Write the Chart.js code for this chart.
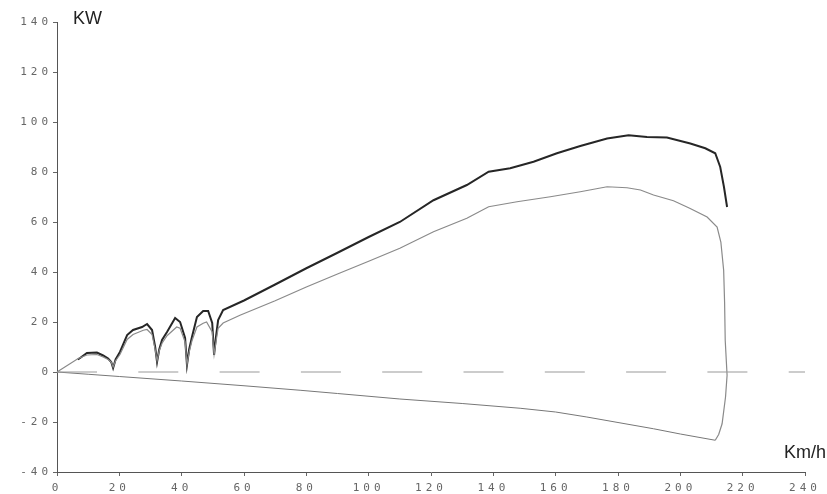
<!DOCTYPE html>
<html>
<head>
<meta charset="utf-8">
<script src="https://cdn.jsdelivr.net/npm/chart.js@4"></script>
<style>
html, body { margin: 0; padding: 0; background: #fff; }
</style>
</head>
<body>
<canvas id="chart" width="827" height="494"></canvas>
<script>
// 軸ラベル
const yTitle = "KW";
const xTitle = "Km/h";
const xTicks = [0, 20, 40, 60, 80, 100, 120, 140, 160, 180, 200, 220, 240];
const yTicks = [-40, -20, 0, 20, 40, 60, 80, 100, 120, 140];

// 上の黒い線 (速度 km/h, 出力 kW)
const blackSpeed = [6.7, 7.4, 9.6, 12.8, 14.8, 16.4, 17.4, 18.0, 18.8, 20.2, 22.5, 24.4, 27.3, 28.9, 30.5, 31.5, 32.1, 32.8, 33.7, 35.3, 37.9, 39.5, 41.1, 41.7, 42.4, 43.3, 44.9, 46.9, 48.5, 49.8, 50.4, 51.0, 51.7, 53.3, 60, 70, 80, 90, 100, 110, 120.8, 131.5, 138.5, 145.4, 152.9, 160.4, 167.9, 176.5, 183.4, 189.3, 195.7, 203.2, 208, 211.2, 212.8, 214, 215];
const blackPower = [5, 5.6, 7.6, 7.8, 6.6, 5.4, 4, 1.6, 5, 8, 14.8, 16.8, 18, 19.2, 16.8, 10, 4, 9, 12.8, 16, 21.6, 20, 13.6, 2.8, 9, 14, 22, 24.4, 24.4, 19.6, 6.8, 14, 20.8, 24.8, 28.6, 35, 41.5, 47.7, 54, 60, 68.7, 74.8, 80.1, 81.5, 84.1, 87.5, 90.4, 93.4, 94.7, 94, 93.8, 91.4, 89.5, 87.5, 82, 74, 66];

// 灰色の線 (上側から下まで)
const greySpeed = [0, 6.8, 9.6, 12.8, 14.8, 16.4, 17.4, 18, 18.8, 20.2, 22.5, 24.4, 27.7, 28.9, 30.5, 31.5, 32.1, 32.8, 33.7, 35.3, 38.4, 39.5, 41.1, 41.7, 42.4, 43.3, 44.9, 46.9, 48, 49.8, 50.4, 51, 51.7, 53.3, 58.7, 70, 80, 90, 100, 110, 120.8, 131.5, 138.5, 147.6, 158.3, 167.9, 176.5, 182.9, 187.2, 191.4, 197.8, 203, 208.6, 211.8, 213, 213.9, 214.2, 214.4, 215, 214.5, 213.4, 212.3, 211.2];
const greyPower = [0, 5.4, 6.8, 7, 6, 5, 4, 2, 4.5, 7, 13, 15, 16.7, 17, 15, 9, 4.5, 8.5, 11.5, 14.5, 18, 17.5, 12, 3, 8, 12.5, 18, 19.5, 20, 16, 7, 12, 17.5, 19.6, 22.7, 28.5, 34, 39.2, 44.3, 49.5, 56.1, 61.5, 66.1, 68.1, 70.1, 72.1, 74.1, 73.7, 72.8, 70.8, 68.5, 65.5, 62, 58, 52, 40.7, 28, 12.7, -1.3, -10, -20.7, -25, -27.3];

// 下の線 (負の出力)
const lowerSpeed = [211.2, 200, 191.4, 180, 170, 160, 148.6, 130, 110, 90, 78, 60, 40, 20, 10, 0];
const lowerPower = [-27.3, -24.8, -22.7, -20.2, -18, -16, -14.5, -12.6, -10.8, -8.6, -7.3, -5.5, -3.6, -1.8, -0.9, 0];

// 0 の破線
const zeroSpeed = [0, 240];
const zeroPower = [0, 0];

const toPoints = (xs, ys) => xs.map((x, i) => ({ x: x, y: ys[i] }));

// 軸タイトルと文字間隔
const axisTitles = {
    id: "axisTitles",
    beforeDraw(chart) {
        chart.ctx.letterSpacing = "4px";
    },
    afterDraw(chart) {
        const c = chart.ctx;
        c.save();
        c.letterSpacing = "0px";
        c.font = '18px "Liberation Sans", Arial, sans-serif';
        c.fillStyle = "#222";
        c.textBaseline = "top";
        c.textAlign = "left";
        c.fillText(yTitle, chart.chartArea.left + 16, 10);
        c.textAlign = "right";
        c.fillText(xTitle, chart.width - 1, 444);
        c.restore();
    },
};

const ctx = document.getElementById("chart").getContext("2d");
const tickFont = { family: '"DejaVu Sans Mono", monospace', size: 11 };

new Chart(ctx, {
    type: "scatter",
    data: {
        datasets: [
            {
                data: toPoints(zeroSpeed, zeroPower),
                borderColor: "#9a9a9a",
                borderWidth: 1.2,
                borderDash: [40, 41.3],
            },
            {
                data: toPoints(lowerSpeed, lowerPower),
                borderColor: "#777",
                borderWidth: 1,
            },
            {
                data: toPoints(greySpeed, greyPower),
                borderColor: "#8a8a8a",
                borderWidth: 1.2,
            },
            {
                data: toPoints(blackSpeed, blackPower),
                borderColor: "#262626",
                borderWidth: 2,
            },
        ],
    },
    options: {
        responsive: false,
        animation: false,
        showLine: true,
        pointRadius: 0,
        clip: false,
        layout: { padding: { top: 22, right: 22, left: 0, bottom: 0 } },
        scales: {
            x: {
                type: "linear",
                min: 0,
                max: 240,
                afterBuildTicks: (s) => { s.ticks = xTicks.map((v) => ({ value: v })); },
                afterFit: (s) => { s.height = 22; },
                grid: { drawOnChartArea: false, tickLength: 4, color: "#666" },
                border: { color: "#555", width: 1 },
                ticks: { font: tickFont, color: "#666", padding: 6, maxRotation: 0 },
            },
            y: {
                type: "linear",
                min: -40,
                max: 140,
                afterBuildTicks: (s) => { s.ticks = yTicks.map((v) => ({ value: v })); },
                afterFit: (s) => { s.width = 57; },
                grid: { drawOnChartArea: false, tickLength: 4, color: "#666" },
                border: { color: "#555", width: 1 },
                ticks: { font: tickFont, color: "#666", padding: 1 },
            },
        },
        plugins: {
            legend: { display: false },
            tooltip: { enabled: false },
        },
    },
    plugins: [axisTitles],
});
</script>
</body>
</html>
